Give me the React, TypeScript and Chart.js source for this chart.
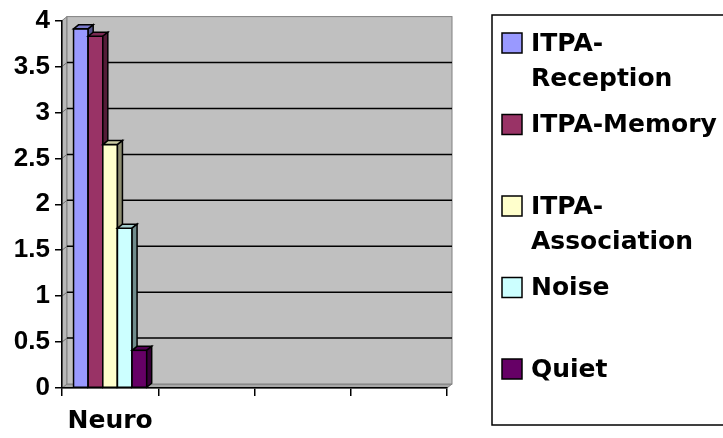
import React, { useEffect, useRef } from "react";
import { Chart, registerables } from "chart.js";

Chart.register(...registerables);

const categories = ["Neuro", "", "", ""];
const seriesNames = ["ITPA-Reception", "ITPA-Memory", "ITPA-Association", "Noise", "Quiet"];
const legendLines = [["ITPA-", "Reception"], ["ITPA-Memory"], ["ITPA-", "Association"], ["Noise"], ["Quiet"]];
const receptionValues = [3.91, null, null, null];
const memoryValues = [3.83, null, null, null];
const associationValues = [2.65, null, null, null];
const noiseValues = [1.74, null, null, null];
const quietValues = [0.41, null, null, null];
const seriesColors = ["#9999FF", "#993366", "#FFFFCC", "#CCFFFF", "#660066"];
const yMin = 0;
const yMax = 4;
const yStep = 0.5;

const DX = 5;
const DY = -4;

function shade(hex: string, f: number): string {
  const n = parseInt(hex.slice(1), 16);
  const r = Math.round(((n >> 16) & 255) * f);
  const g = Math.round(((n >> 8) & 255) * f);
  const b = Math.round((n & 255) * f);
  return `rgb(${r},${g},${b})`;
}

function poly(ctx: CanvasRenderingContext2D, pts: number[][], fill: string, stroke?: string, lw = 1) {
  ctx.beginPath();
  ctx.moveTo(pts[0][0], pts[0][1]);
  for (let i = 1; i < pts.length; i++) ctx.lineTo(pts[i][0], pts[i][1]);
  ctx.closePath();
  ctx.fillStyle = fill;
  ctx.fill();
  if (stroke) {
    ctx.strokeStyle = stroke;
    ctx.lineWidth = lw;
    ctx.stroke();
  }
}

const threeDPlugin = {
  id: "threeD",
  beforeDatasetsDraw(chart: any) {
    const { ctx, chartArea, scales } = chart;
    const { left, right, top, bottom } = chartArea;
    const y = scales.y;
    ctx.save();
    poly(ctx, [[left, bottom], [left + DX, bottom + DY], [right + DX, bottom + DY], [right, bottom]], "#A8A8A8", "#808080");
    poly(ctx, [[left, top], [left + DX, top + DY], [left + DX, bottom + DY], [left, bottom]], "#B8B8B8", "#808080");
    ctx.fillStyle = "#C0C0C0";
    ctx.fillRect(left + DX, top + DY, right - left, bottom - top);
    ctx.strokeStyle = "#808080";
    ctx.lineWidth = 1;
    ctx.strokeRect(left + DX, top + DY, right - left, bottom - top);
    for (const t of y.ticks) {
      const v = t.value;
      if (v <= yMin || v >= yMax) continue;
      const py = y.getPixelForValue(v);
      ctx.beginPath();
      ctx.moveTo(left, py);
      ctx.lineTo(left + DX, py + DY);
      ctx.strokeStyle = "#707070";
      ctx.lineWidth = 1;
      ctx.stroke();
      ctx.beginPath();
      ctx.moveTo(left + DX, py + DY);
      ctx.lineTo(right + DX, py + DY);
      ctx.strokeStyle = "#000";
      ctx.lineWidth = 1.5;
      ctx.stroke();
    }
    ctx.restore();
  },
  afterDatasetsDraw(chart: any) {
    const { ctx } = chart;
    ctx.save();
    chart.data.datasets.forEach((ds: any, i: number) => {
      const meta = chart.getDatasetMeta(i);
      meta.data.forEach((el: any, j: number) => {
        if (ds.data[j] == null) return;
        const w = el.width;
        const l = el.x - w / 2;
        const r = el.x + w / 2;
        const t = el.y;
        const b = el.base;
        const col = seriesColors[i];
        ctx.fillStyle = col;
        ctx.fillRect(l, t, r - l, b - t);
        ctx.strokeStyle = "#000";
        ctx.lineWidth = 1.5;
        ctx.strokeRect(l, t, r - l, b - t);
        poly(ctx, [[l, t], [l + DX, t + DY], [r + DX, t + DY], [r, t]], shade(col, 0.8), "#000", 1.5);
        poly(ctx, [[r, t], [r + DX, t + DY], [r + DX, b + DY], [r, b]], shade(col, 0.55), "#000", 1.5);
      });
    });
    ctx.restore();
  },
  afterDraw(chart: any) {
    const { ctx } = chart;
    ctx.save();
    ctx.strokeStyle = "#000";
    ctx.lineWidth = 1.5;
    ctx.strokeRect(492, 15, 240, 410);
    ctx.font = 'bold 25px "DejaVu Sans"';
    ctx.textBaseline = "middle";
    ctx.textAlign = "left";
    legendLines.forEach((lines, i) => {
      const cy = 43 + i * 81.5;
      ctx.fillStyle = seriesColors[i];
      ctx.fillRect(502, cy - 10, 20, 20);
      ctx.strokeStyle = "#000";
      ctx.lineWidth = 1.5;
      ctx.strokeRect(502, cy - 10, 20, 20);
      ctx.fillStyle = "#000";
      lines.forEach((ln, k) => ctx.fillText(ln, 531, cy + 1 + k * 35));
    });
    ctx.restore();
  },
};

export default function App() {
  const ref = useRef<HTMLCanvasElement>(null);
  useEffect(() => {
    if (!ref.current) return;
    const seriesData = [receptionValues, memoryValues, associationValues, noiseValues, quietValues];
    const chart = new Chart(ref.current, {
      type: "bar",
      data: {
        labels: categories,
        datasets: seriesNames.map((name, i) => ({
          label: name,
          data: seriesData[i],
          backgroundColor: seriesColors[i],
          borderColor: "#000",
          borderWidth: 1,
          categoryPercentage: 0.76,
          barPercentage: 1,
        })),
      },
      options: {
        responsive: false,
        animation: false,
        devicePixelRatio: 1,
        layout: { padding: { top: 18, right: 276, bottom: 0, left: 0 } },
        plugins: { legend: { display: false }, tooltip: { enabled: false } },
        scales: {
          x: {
            type: "category",
            offset: true,
            grid: { display: true, drawOnChartArea: false, drawTicks: true, tickLength: 8, color: "#000", lineWidth: 1.5, offset: true },
            border: { display: true, color: "#000", width: 1.5, z: 1 },
            ticks: { color: "#000", font: { family: '"DejaVu Sans"', weight: "bold", size: 25 }, padding: 10, maxRotation: 0, autoSkip: false },
            afterFit: (s: any) => { s.height = 50; },
          },
          y: {
            min: yMin,
            max: yMax,
            ticks: {
              stepSize: yStep,
              color: "#000",
              font: { family: "Arial, 'Liberation Sans', sans-serif", weight: "bold", size: 26 },
              padding: 5,
              callback: (v: any) => String(Number(v)),
            },
            grid: { drawOnChartArea: false, drawTicks: true, tickLength: 7, color: "#000", lineWidth: 1.5 },
            border: { display: true, color: "#000", width: 1.5, z: 1 },
            afterFit: (s: any) => { s.width = 62; },
          },
        },
      } as any,
      plugins: [threeDPlugin],
    });
    return () => chart.destroy();
  }, []);
  return (
    <div style={{ position: "absolute", left: 0, top: 0, width: 723, height: 438, background: "#fff" }}>
      <canvas ref={ref} width={723} height={438} style={{ width: 723, height: 438, display: "block" }} />
    </div>
  );
}
